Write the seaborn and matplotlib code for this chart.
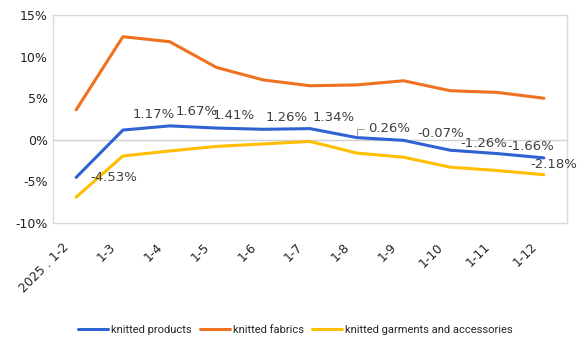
import pandas as pd
import seaborn as sns
import matplotlib.pyplot as plt
from matplotlib.ticker import FuncFormatter
from matplotlib.transforms import ScaledTranslation

# Cumulative growth by period
periods = ['2025 . 1-2', '1-3', '1-4', '1-5', '1-6', '1-7', '1-8', '1-9', '1-10', '1-11', '1-12']
knitted_products = [-4.53, 1.17, 1.67, 1.41, 1.26, 1.34, 0.26, -0.07, -1.26, -1.66, -2.18]
knitted_fabrics = [3.6, 12.4, 11.8, 8.7, 7.2, 6.5, 6.6, 7.1, 5.9, 5.7, 5.0]
knitted_garments = [-6.9, -1.95, -1.35, -0.8, -0.5, -0.2, -1.6, -2.1, -3.3, -3.7, -4.2]

series_names = ['knitted products', 'knitted fabrics', 'knitted garments and accessories']
colors = ['#2F62D3', '#F0711F', '#FFBE00']

df = pd.DataFrame({
    'period': periods * 3,
    'x': list(range(len(periods))) * 3,
    'value': knitted_products + knitted_fabrics + knitted_garments,
    'series': [series_names[0]] * len(periods) + [series_names[1]] * len(periods) + [series_names[2]] * len(periods),
})

sns.set_style('white')
plt.rcParams['font.family'] = ['DejaVu Sans']

fig = plt.figure(figsize=(5.8, 3.51), dpi=100)
ax = fig.add_axes([0.091, 0.365, 0.887, 0.592])

sns.lineplot(data=df, x='x', y='value', hue='series', palette=colors,
             linewidth=2.2, ax=ax, legend=True)

ax.axhline(0, color='#d0d0d0', linewidth=1, zorder=0)

# data labels for knitted products (offsets in points)
offsets = [(27, 0), (22, 11), (19.5, 10.5), (12, 9), (16.5, 8.5), (17, 8), (23, 6.5), (27, 5), (24, 5), (24, 5), (7, -5)]
for i, v in enumerate(knitted_products):
    kw = {}
    if i == 6:
        kw['arrowprops'] = dict(arrowstyle='-', color='#a0a0a0', lw=0.8, shrinkA=0, shrinkB=2,
                                connectionstyle='angle,angleA=0,angleB=90,rad=0')
    ax.annotate(f'{v:.2f}%', (i, v), xytext=offsets[i], textcoords='offset points',
                ha='center', va='center', fontsize=9.5, color='#404040',
                annotation_clip=False, **kw)

ax.set_xlim(-0.5, len(periods) - 0.5)
ax.set_ylim(-10, 15)
ax.set_yticks([-10, -5, 0, 5, 10, 15])
ax.yaxis.set_major_formatter(FuncFormatter(lambda v, p: f'{v:.0f}%'))
ax.set_xticks(range(len(periods)))
ax.set_xticklabels(periods, rotation=45, ha='right', va='center', rotation_mode='anchor',
                   fontsize=9, color='#222222')
ax.tick_params(axis='y', labelsize=9, colors='#222222', length=0)
ax.tick_params(axis='x', length=0, pad=16)
shift = ScaledTranslation(-0.09, 0, fig.dpi_scale_trans)
for lbl in ax.get_xticklabels():
    lbl.set_transform(lbl.get_transform() + shift)
ax.set_xlabel('')
ax.set_ylabel('')

for s in ax.spines.values():
    s.set_color('#d9d9d9')
    s.set_linewidth(1)

handles, labels = ax.get_legend_handles_labels()
ax.get_legend().remove()
fig.legend(handles, labels, loc='center', bbox_to_anchor=(0.509, 0.06), ncol=3,
           frameon=False, prop={'family': 'Roboto', 'size': 8}, handlelength=2.7,
           columnspacing=0.7, handletextpad=0.3)

fig.savefig('out.png', dpi=100)
